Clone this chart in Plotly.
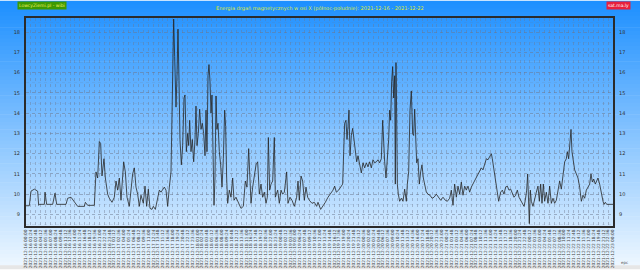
import plotly.graph_objects as go
import pandas as pd

START = "2021-12-16 00:00"

hours = [
    0.00, 0.95, 1.43, 2.39, 3.34, 3.63, 3.82, 5.25, 5.44, 5.91, 7.63, 8.30, 8.78, 11.45, 11.93,
    12.88, 13.83, 14.79, 16.70, 16.98, 17.65, 19.56, 20.03, 20.51, 20.99, 21.37, 21.75, 22.32,
    22.71, 23.37, 23.85, 24.61, 25.28, 25.76, 26.24, 26.71, 27.19, 27.95, 28.43, 28.91, 29.57,
    30.05, 30.53, 31.01, 31.48, 31.96, 32.44, 32.91, 33.58, 34.06, 34.53, 35.01, 35.49, 36.06,
    36.44, 37.02, 37.68, 38.16, 38.64, 39.11, 39.59, 40.07, 40.55, 41.02, 41.50, 41.79, 42.07,
    42.26, 42.55, 42.93, 43.22, 43.50, 43.79, 44.07, 44.46, 44.84, 45.22, 45.51, 45.89, 46.27,
    46.56, 46.84, 47.22, 47.60, 47.99, 48.37, 48.65, 48.94, 49.32, 49.70, 50.09, 50.47, 50.85,
    51.23, 51.52, 51.80, 52.09, 52.37, 52.66, 52.95, 53.23, 53.52, 53.81, 54.09, 54.38, 54.66,
    54.95, 55.33, 55.71, 56.10, 56.48, 56.86, 57.14, 57.43, 57.72, 58.19, 58.67, 59.15, 59.53,
    60.10, 60.77, 61.53, 62.20, 62.77, 63.25, 63.73, 64.01, 64.40, 64.87, 65.35, 65.83, 66.30,
    66.78, 67.26, 67.73, 68.21, 68.69, 69.07, 69.36, 69.74, 70.12, 70.60, 71.07, 71.36, 72.03,
    72.50, 72.98, 73.46, 73.94, 74.60, 74.98, 75.56, 76.13, 76.80, 77.46, 77.85, 78.23, 78.71,
    79.18, 79.66, 80.14, 80.61, 81.09, 81.85, 82.52, 83.19,
    83.57, 84.33, 85.00, 85.67, 86.43, 87.20, 87.86, 88.34, 88.82, 89.48, 90.06, 90.63, 90.92,
    91.20, 91.58, 91.87, 92.16, 92.44, 92.73, 93.11, 93.49, 93.87, 94.25, 94.64, 95.02, 95.50,
    95.97, 96.45, 96.93, 97.40, 97.88, 98.36, 98.83, 99.31, 99.79, 100.27, 100.74, 101.22,
    101.70, 102.08, 102.36, 102.65, 103.03, 103.41, 103.79, 104.08, 104.37, 104.65, 104.94,
    105.23, 105.51, 105.70, 105.89, 106.08, 106.28, 106.56, 106.94, 107.42, 107.90, 108.37,
    108.85, 109.14, 109.52, 109.90, 110.28, 110.66, 110.95, 111.24, 111.52, 111.81, 112.19,
    112.57, 112.95, 113.33, 113.72, 114.10, 114.58, 115.05, 115.62, 116.20, 116.77, 117.44,
    118.10, 118.68, 119.35, 120.01, 120.59, 121.25, 121.73, 122.21, 122.68, 123.16, 123.64,
    124.12, 124.59, 125.07, 125.55, 126.02, 126.50, 126.98, 127.45, 127.93, 128.41, 128.89,
    129.36, 129.84, 130.32, 130.79, 131.27, 131.75, 132.22, 132.70, 133.18, 133.46, 133.85,
    134.32, 134.80, 135.28, 135.85, 136.33, 136.80, 137.28, 137.76, 138.23, 138.71, 139.19,
    139.67, 140.14, 140.62, 141.10, 141.57, 142.05, 142.53, 142.91, 143.29, 143.58, 143.86,
    144.05, 144.34, 144.63, 145.10, 145.58, 146.06, 146.53, 146.92, 147.30, 147.68, 148.06,
    148.44, 148.92, 149.40, 149.87, 150.35, 150.83, 151.30, 151.78, 152.26, 152.73, 153.21,
    153.69, 154.17, 154.64, 154.93, 155.31, 155.69, 155.98, 156.26, 156.65, 157.03, 157.51,
    157.98, 158.46, 158.94, 159.41, 159.89, 160.37, 160.84, 161.32, 161.70, 162.09, 162.47,
    162.94, 163.32, 163.71, 164.18, 164.66, 165.14, 165.42, 165.80, 166.19, 168.00,
]

energy = [
    9.43, 9.43, 10.15, 10.25, 10.15, 9.45, 9.50, 9.50, 10.10, 9.50, 9.50, 10.05, 9.50, 9.50, 9.80,
    9.85, 9.60, 9.40, 9.40, 9.60, 9.45, 9.45, 11.10, 10.80, 12.60, 12.50, 10.90,
    11.75, 10.80, 10.00, 9.80, 9.60, 9.85, 10.65, 10.20, 10.80, 9.70, 11.60, 11.10, 9.85, 9.40,
    10.20, 11.00, 11.30, 10.35, 10.00, 9.40, 9.95, 9.55, 10.40, 9.40, 10.25, 9.30, 9.25,
    9.40, 9.25, 9.85, 10.20, 10.10, 10.25, 10.35, 10.20, 9.40, 10.35, 11.10, 13.95, 17.10,
    18.65, 16.80, 14.30, 15.90, 18.15, 15.60, 12.70, 11.45, 12.40, 14.75, 14.90, 12.10, 13.00,
    12.40, 13.65, 12.10, 12.70, 11.60, 12.70, 14.35, 12.40, 13.00, 14.20, 13.20, 13.50, 13.00,
    11.90, 14.15, 12.10, 15.85, 16.40, 15.55, 14.00, 14.90, 10.80, 9.45, 10.80, 14.85, 13.20,
    13.50, 12.10, 11.45, 10.35, 11.75, 14.15, 13.35, 10.80, 9.55, 10.20, 9.85, 10.80, 9.70,
    9.85, 9.55, 9.30, 9.40, 10.65, 10.35, 12.25, 11.10, 9.55, 10.35, 10.80, 11.45, 11.60,
    10.00, 10.50, 9.85, 10.10, 9.55, 9.85, 12.80, 10.20, 10.50, 10.65, 12.80, 9.85, 10.20,
    9.55, 10.20, 10.00, 10.10, 11.10, 9.55, 9.85, 9.70, 9.40, 9.85, 10.65, 9.70, 10.90,
    10.65, 9.70, 10.35, 9.85, 9.70, 9.55, 9.60, 9.40,
    9.60, 9.25, 9.40, 9.60, 9.85, 10.05, 10.20, 10.40, 10.10, 10.20, 10.35, 10.50, 12.10,
    13.50, 13.65, 12.70, 13.35, 14.15, 11.90, 12.90, 13.25, 12.70, 12.10, 11.60, 11.90, 11.45,
    11.05, 11.55, 11.30, 11.55, 11.35, 11.60, 11.30, 11.70, 11.55, 11.60, 11.70, 11.55,
    11.75, 13.65, 12.55, 11.60, 10.80, 11.60, 12.70, 14.15, 13.65, 15.55, 16.30,
    14.75, 15.85, 10.50, 16.50, 14.00, 10.50, 10.00, 9.65, 9.80, 9.65, 10.25,
    9.65, 10.50, 11.10, 14.15, 15.10, 13.00, 12.90, 14.20, 12.70, 11.55, 11.75,
    10.50, 11.10, 11.45, 10.80, 10.50, 10.10, 10.00, 9.95, 9.80, 9.85, 10.00,
    9.85, 9.70, 9.85, 9.70, 9.65, 9.80, 10.20, 9.45, 10.50, 9.85, 10.40,
    10.00, 10.60, 9.95, 10.40, 10.20, 10.40, 10.10, 10.35, 10.50, 10.65, 10.80,
    11.00, 11.10, 11.30, 11.20, 11.45, 11.75, 11.70, 11.85, 12.00, 11.75, 11.30,
    10.80, 10.35, 9.65, 10.10, 10.20, 10.00, 10.35, 10.40, 10.20, 10.25, 10.00,
    9.85, 9.95, 10.20, 9.85, 9.70, 9.55, 9.40, 9.70, 10.20, 11.00, 9.85,
    8.55, 10.20, 9.65, 9.40, 9.85, 10.10, 10.40, 9.65, 10.50, 9.55, 10.50,
    9.65, 10.10, 9.55, 10.40, 9.55, 9.80, 9.55, 9.70, 10.20, 10.65, 10.25,
    11.10, 11.60, 11.75, 12.10, 11.75, 12.40, 13.20, 12.10, 11.60, 11.20, 11.00,
    10.80, 10.35, 9.65, 9.95, 9.80, 10.20, 10.35, 10.50, 11.00, 10.60, 10.75,
    10.50, 10.65, 10.80, 10.50, 10.00, 9.65, 9.50, 9.60, 9.50, 9.50,
]

Y_TICKS = [9, 10, 11, 12, 13, 14, 15, 16, 17, 18]
TITLE = "Energia drgań magnetycznych w osi X (północ-południe): 2021-12-16 - 2021-12-22"
BADGE_LEFT = "LowcyZiemi.pl - wibi"
BADGE_RIGHT = "sat.ma.ly"
CORNER = "epc"

times = pd.Timestamp(START) + pd.to_timedelta(hours, unit="h")
x_end = pd.Timestamp(START) + pd.Timedelta(hours=168)

W, H = 640, 280
ML, MR, MT, MB = 26, 27, 18, 45
PW, PH = W - ML - MR, H - MT - MB

fig = go.Figure()
fig.add_trace(go.Scatter(x=times, y=energy, mode="lines",
                         line=dict(color="#262626", width=0.8),
                         showlegend=False, hoverinfo="x+y"))
fig.add_trace(go.Scatter(x=times, y=energy, mode="lines", yaxis="y2",
                         line=dict(color="rgba(0,0,0,0)", width=0),
                         showlegend=False, hoverinfo="skip"))

# background gradient in bands (page-wide)
shapes = []
n = 70
top_c = (30, 144, 255)
bot_c = (236, 246, 255)
for i in range(n):
    f = i / (n - 1)
    c = tuple(int(round(top_c[k] + (bot_c[k] - top_c[k]) * f)) for k in range(3))
    y0_px = 276 * i / n
    y1_px = 276 * (i + 1) / n + 0.6
    shapes.append(dict(type="rect", xref="paper", yref="paper", layer="below",
                       x0=-ML / PW, x1=1 + MR / PW,
                       y0=1 - (y1_px - MT) / PH, y1=1 - (y0_px - MT) / PH,
                       line=dict(width=0), fillcolor="rgb(%d,%d,%d)" % c))
shapes.append(dict(type="rect", xref="paper", yref="paper", layer="below",
                   x0=-ML / PW, x1=1 + MR / PW,
                   y0=1 - (H - MT) / PH, y1=1 - (276 - MT) / PH,
                   line=dict(width=0), fillcolor="#e6e6e6"))

grid = "rgba(110,120,140,0.42)"
fig.update_layout(
    width=W, height=H,
    margin=dict(l=ML, r=MR, t=MT, b=MB, pad=0),
    paper_bgcolor="#ffffff", plot_bgcolor="rgba(0,0,0,0)",
    shapes=shapes,
    font=dict(family="DejaVu Sans", size=5, color="#333333"),
    xaxis=dict(type="date", range=[pd.Timestamp(START), x_end],
               tick0=pd.Timestamp(START), dtick=84 * 60 * 1000,
               tickformat="%Y-%m-%d %H:%M", tickangle=-90,
               tickfont=dict(size=4.3, color="#444444"),
               showgrid=True, gridcolor=grid, griddash="dot", gridwidth=0.6,
               showline=True, linecolor="#2b2b2b", linewidth=1.6, mirror=True,
               ticks="", zeroline=False),
    yaxis=dict(range=[8.43, 18.7], tickvals=Y_TICKS,
               tickfont=dict(size=5, color="#333333"),
               showgrid=True, gridcolor=grid, griddash="dot", gridwidth=0.6,
               minor=dict(dtick=0.5, showgrid=True, gridcolor="rgba(110,120,140,0.15)", griddash="dot"),
               showline=True, linecolor="#2b2b2b", linewidth=2, ticks="",
               zeroline=False, ticklabelstandoff=3),
    yaxis2=dict(range=[8.43, 18.7], tickvals=Y_TICKS, overlaying="y", side="right",
                tickfont=dict(size=5, color="#333333"), showgrid=False,
                showline=True, linecolor="#2b2b2b", linewidth=2, ticks="",
                zeroline=False, ticklabelstandoff=3),
    annotations=[
        dict(text=TITLE, xref="paper", yref="paper", x=0.5, y=1 + 4 / PH,
             xanchor="center", yanchor="bottom", showarrow=False,
             font=dict(size=5, color="#dcea30")),
        dict(text=BADGE_LEFT, xref="paper", yref="paper", x=-9 / PW, y=1 + 8 / PH,
             xanchor="left", yanchor="bottom", showarrow=False,
             bgcolor="#3c9a00", borderpad=1,
             font=dict(size=4.5, color="#f0f060")),
        dict(text=BADGE_RIGHT, xref="paper", yref="paper", x=1 + 18 / PW, y=1 + 8 / PH,
             xanchor="right", yanchor="bottom", showarrow=False,
             bgcolor="#e8203c", borderpad=1,
             font=dict(size=4.5, color="#ffffff")),
        dict(text=CORNER, xref="paper", yref="paper", x=1 + 17 / PW, y=-38 / PH,
             xanchor="right", yanchor="middle", showarrow=False,
             font=dict(size=4, color="#555555")),
    ],
)

fig.write_html("out.html")
